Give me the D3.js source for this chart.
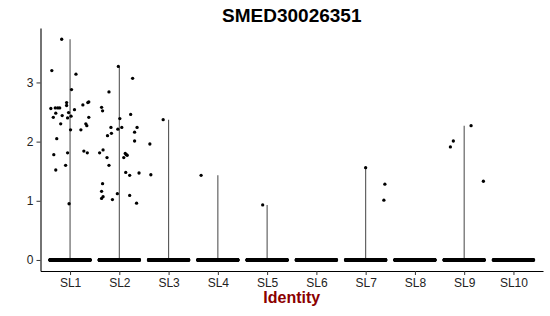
<!DOCTYPE html>
<html>
<head>
<meta charset="utf-8">
<script src="https://cdn.jsdelivr.net/npm/d3@7"></script>
<style>
  html, body { margin: 0; padding: 0; background: #ffffff; }
  svg { display: block; font-family: "Liberation Sans", Arial, Helvetica, sans-serif; }
</style>
</head>
<body>
<svg id="chart" width="550" height="316"></svg>
<script>
// ---------------- data ----------------
const title = "SMED30026351";
const xTitle = "Identity";
const categories = ["SL1", "SL2", "SL3", "SL4", "SL5", "SL6", "SL7", "SL8", "SL9", "SL10"];
const yTicks = [0, 1, 2, 3];

// estimated number of cells with zero expression per identity
const zeroCounts = [420, 420, 380, 360, 380, 360, 380, 360, 300, 260];

// non-zero expression values per identity, with their horizontal jitter (in category units)
const exprSL1 = [3.73, 3.20, 3.14, 2.88, 2.56, 2.57, 2.57, 2.57, 2.66, 2.61, 2.41, 2.48, 2.44, 2.30, 2.49, 2.40, 2.43, 2.54, 2.62, 2.66, 2.67, 2.41, 2.30, 2.27, 2.20, 2.20, 2.05, 1.78, 1.81, 1.84, 1.81, 1.60, 1.52, 0.95];
const jitSL1  = [-0.17, -0.37, 0.12, 0.03, -0.39, -0.30, -0.25, -0.21, -0.07, -0.07, -0.34, -0.29, -0.16, -0.19, -0.03, -0.05, 0.02, 0.09, 0.26, 0.36, 0.38, 0.38, 0.32, 0.34, 0.22, 0.01, -0.27, -0.33, -0.05, 0.28, 0.35, -0.09, -0.29, -0.02];
const exprSL2 = [3.27, 3.07, 2.84, 2.58, 2.52, 2.46, 2.39, 2.24, 2.24, 2.21, 2.24, 2.16, 2.14, 2.10, 2.01, 1.86, 1.81, 1.80, 1.78, 1.73, 1.77, 1.73, 1.60, 1.48, 1.43, 1.47, 1.29, 1.16, 1.07, 1.04, 1.12, 1.02, 1.09, 0.96];
const jitSL2  = [-0.02, 0.27, -0.21, -0.36, -0.34, 0.23, 0.01, -0.17, 0.05, -0.03, 0.36, 0.31, -0.16, -0.24, 0.31, -0.33, -0.40, 0.12, 0.14, 0.09, 0.16, -0.25, -0.21, 0.13, 0.21, 0.40, -0.34, -0.36, -0.33, -0.36, -0.04, -0.14, 0.21, 0.35];
const exprSL3 = [2.37, 1.96, 1.44];
const jitSL3  = [-0.11, -0.38, -0.36];
const exprSL4 = [1.43];
const jitSL4  = [-0.34];
const exprSL5 = [0.93];
const jitSL5  = [-0.09];
const exprSL6 = [];
const jitSL6  = [];
const exprSL7 = [1.56, 1.28, 1.01];
const jitSL7  = [0.00, 0.39, 0.37];
const exprSL8 = [];
const jitSL8  = [];
const exprSL9 = [1.91, 2.01, 2.27, 1.33];
const jitSL9  = [-0.28, -0.22, 0.14, 0.39];
const exprSL10 = [];
const jitSL10  = [];

const exprByGroup = [exprSL1, exprSL2, exprSL3, exprSL4, exprSL5, exprSL6, exprSL7, exprSL8, exprSL9, exprSL10];
const jitByGroup  = [jitSL1, jitSL2, jitSL3, jitSL4, jitSL5, jitSL6, jitSL7, jitSL8, jitSL9, jitSL10];

// ---------------- layout ----------------
const W = 550, H = 316;
const panel = { left: 40.5, right: 543, top: 28, bottom: 271 };
const fontFamily = '"Liberation Sans", Arial, Helvetica, sans-serif';

const svg = d3.select("#chart");

const x = d3.scalePoint()
  .domain(categories)
  .range([panel.left, panel.right])
  .padding(0.6);
const step = x.step();

const y = d3.scaleLinear()
  .domain([-0.1865, 3.92])
  .range([panel.bottom, panel.top]);

// build tables
const pointRows = [];
const zeroRows = [];
categories.forEach((cat, gi) => {
  exprByGroup[gi].forEach((v, i) => pointRows.push({ cat, value: v, jit: jitByGroup[gi][i] }));
  const n = zeroCounts[gi];
  for (let i = 0; i < n; i++) {
    zeroRows.push({ cat, value: 0, jit: -0.41 + 0.82 * (i / (n - 1)) });
  }
});

const violinRows = categories.map((cat, gi) => ({
  cat,
  max: exprByGroup[gi].length ? d3.max(exprByGroup[gi]) : 0
})).filter(d => d.max > 0);

// ---------------- violins (thin, mostly-zero distributions) ----------------
svg.append("g")
  .selectAll("line")
  .data(violinRows)
  .join("line")
  .attr("x1", d => x(d.cat))
  .attr("x2", d => x(d.cat))
  .attr("y1", y(0))
  .attr("y2", d => y(d.max))
  .attr("stroke", "#555")
  .attr("stroke-width", 1.1);

// ---------------- jittered points ----------------
svg.append("g")
  .selectAll("circle")
  .data(zeroRows)
  .join("circle")
  .attr("cx", d => x(d.cat) + d.jit * step)
  .attr("cy", d => y(d.value))
  .attr("r", 1.6)
  .attr("fill", "#000");

svg.append("g")
  .selectAll("circle")
  .data(pointRows)
  .join("circle")
  .attr("cx", d => x(d.cat) + d.jit * step)
  .attr("cy", d => y(d.value))
  .attr("r", 1.65)
  .attr("fill", "#000");

// ---------------- axes ----------------
const yAxis = svg.append("g")
  .attr("transform", `translate(${panel.left},0)`)
  .call(d3.axisLeft(y).tickValues(yTicks).tickFormat(d3.format("d")).tickSize(4).tickSizeOuter(0).tickPadding(3));
const xAxis = svg.append("g")
  .attr("transform", `translate(0,${panel.bottom})`)
  .call(d3.axisBottom(x).tickSize(4).tickSizeOuter(0).tickPadding(3));

[yAxis, xAxis].forEach(g => {
  g.select(".domain").attr("stroke", "#000").attr("stroke-width", 1.1);
  g.selectAll(".tick line").attr("stroke", "#333").attr("stroke-width", 1);
  g.selectAll(".tick text")
    .attr("fill", "#222")
    .style("font-family", fontFamily)
    .style("font-size", "12px");
});

// ---------------- titles ----------------
svg.append("text")
  .attr("x", (panel.left + panel.right) / 2)
  .attr("y", 22)
  .attr("text-anchor", "middle")
  .style("font-family", fontFamily)
  .style("font-size", "19px")
  .style("font-weight", "bold")
  .attr("fill", "#000")
  .text(title);

svg.append("text")
  .attr("x", (panel.left + panel.right) / 2)
  .attr("y", 303)
  .attr("text-anchor", "middle")
  .style("font-family", fontFamily)
  .style("font-size", "16px")
  .style("font-weight", "bold")
  .attr("fill", "#8B0000")
  .text(xTitle);
</script>
</body>
</html>
